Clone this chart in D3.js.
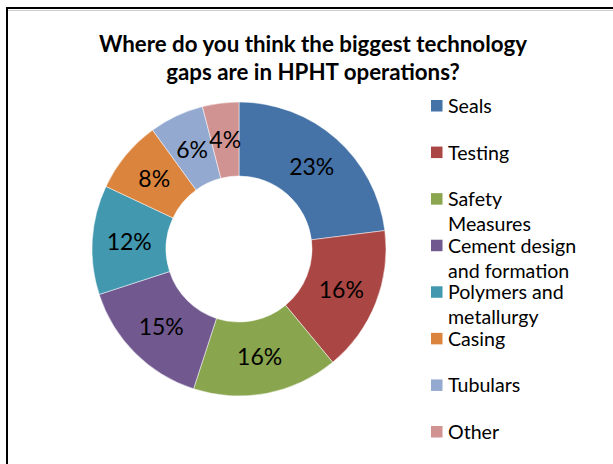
<!DOCTYPE html>
<html>
<head>
<meta charset="utf-8">
<script src="https://cdn.jsdelivr.net/npm/d3@7"></script>
<style>
  html, body { margin: 0; padding: 0; background: #fff; }
  svg { display: block; }
</style>
</head>
<body>
<svg id="chart" width="613" height="464"></svg>
<script>
const categories = ["Seals", "Testing", "Safety Measures", "Cement design and formation", "Polymers and metallurgy", "Casing", "Tubulars", "Other"];
const values = [23, 16, 16, 15, 12, 8, 6, 4];
const colors = ["#4572A7", "#AA4643", "#89A54E", "#71588F", "#4198AF", "#DB843D", "#93A9CF", "#D19392"];
const legendLines = [["Seals"], ["Testing"], ["Safety", "Measures"], ["Cement design", "and formation"], ["Polymers and", "metallurgy"], ["Casing"], ["Tubulars"], ["Other"]];
const titleLines = ["Where do you think the biggest technology", "gaps are in HPHT operations?"];

const W = 613, H = 464;
const svg = d3.select("#chart");
const font = "Lato, 'Open Sans', sans-serif";

// frame
svg.append("line").attr("x1", 6).attr("y1", 8).attr("x2", W).attr("y2", 8)
  .attr("stroke", "#000").attr("stroke-width", 2);
svg.append("line").attr("x1", 7).attr("y1", 7).attr("x2", 7).attr("y2", H)
  .attr("stroke", "#000").attr("stroke-width", 2);
svg.append("line").attr("x1", 8).attr("y1", 10.5).attr("x2", W).attr("y2", 10.5)
  .attr("stroke", "#d0d0d0").attr("stroke-width", 1);

// title
svg.append("g").selectAll("text").data(titleLines).join("text")
  .attr("x", 313).attr("y", (d, i) => 52 + i * 28)
  .attr("text-anchor", "middle")
  .attr("font-family", font).attr("font-weight", "bold").attr("font-size", 22.3)
  .attr("fill", "#000").text(d => d);

// donut
const cx = 239, cy = 249, rOuter = 147, rInner = 73;
const pie = d3.pie().sort(null).value(d => d);
const arc = d3.arc().innerRadius(rInner).outerRadius(rOuter);
const g = svg.append("g").attr("transform", `translate(${cx},${cy})`);
const arcs = pie(values);
g.selectAll("path").data(arcs).join("path")
  .attr("d", arc).attr("fill", (d, i) => colors[i])
  .attr("stroke", "#fff").attr("stroke-width", 0.5);
g.selectAll("text").data(arcs).join("text")
  .attr("transform", d => `translate(${arc.centroid(d)})`)
  .attr("text-anchor", "middle").attr("dy", "0.35em")
  .attr("font-family", font).attr("font-size", 23).attr("fill", "#000")
  .text(d => d.data + "%");

// legend
const legendY = d3.scaleLinear().domain([0, categories.length - 1]).range([106, 432]);
const lg = svg.append("g");
const items = lg.selectAll("g").data(categories).join("g")
  .attr("transform", (d, i) => `translate(431,${legendY(i)})`);
items.append("rect").attr("x", 0).attr("y", -6).attr("width", 11.5).attr("height", 11.5)
  .attr("fill", (d, i) => colors[i]);
items.append("text")
  .attr("font-family", font).attr("font-size", 19.6).attr("fill", "#000")
  .selectAll("tspan").data((d, i) => legendLines[i]).join("tspan")
  .attr("x", 17).attr("y", (d, j) => 7 + j * 25).text(d => d);
</script>
</body>
</html>
